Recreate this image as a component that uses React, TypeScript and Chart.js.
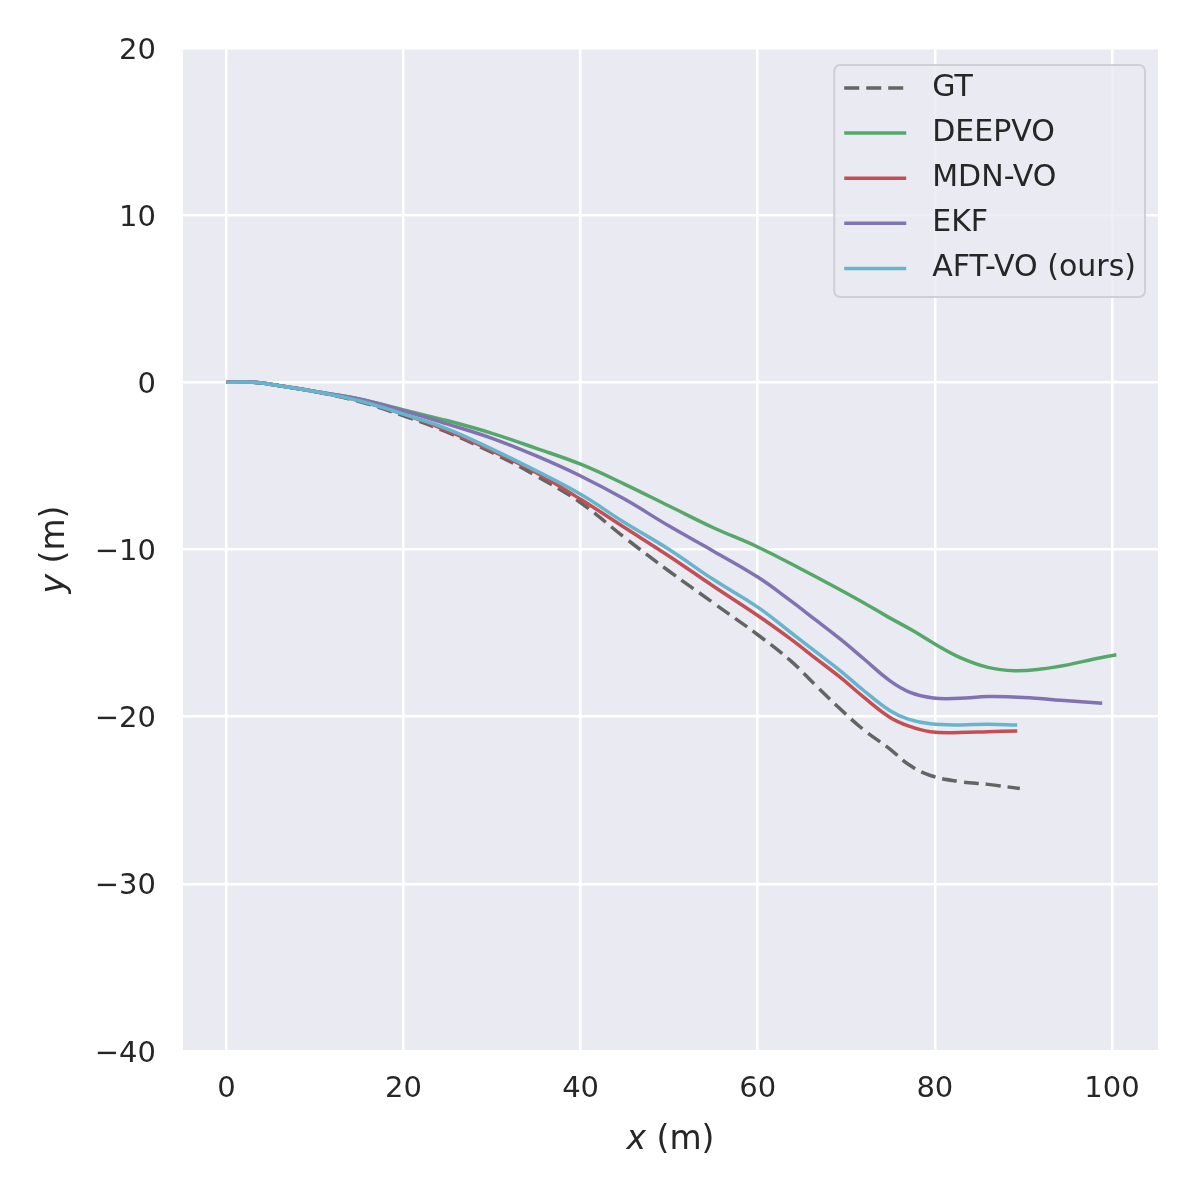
import React, { useEffect, useRef } from "react";
import { Chart, registerables } from "chart.js";

Chart.register(...registerables);

// ---- data ----
const X_TICKS = [0, 20, 40, 60, 80, 100];
const Y_TICKS = [-40, -30, -20, -10, 0, 10, 20];
const SERIES_LABELS = ["GT", "DEEPVO", "MDN-VO", "EKF", "AFT-VO (ours)"];
const SERIES_COLORS = ["#646464", "#55A868", "#C44E52", "#8172B2", "#64B5CD"];

const GT: number[][] = [
  [0, 0], [3, 0], [6, -0.2], [10, -0.55], [15, -1.15], [20, -2.0], [25, -3.0], [30, -4.2],
  [35, -5.6], [40, -7.2], [45, -9.3], [50, -11.3], [55, -13.2], [60, -15.1], [63.7, -16.65],
  [66.5, -18.1], [69.3, -19.53], [72, -20.8], [74.9, -21.92], [77, -22.85], [79.5, -23.52],
  [82.8, -23.88], [86, -24.05], [89.6, -24.3],
];
const DEEPVO: number[][] = [
  [0, 0], [3, 0], [6, -0.2], [10, -0.55], [15, -1.0], [20, -1.65], [25, -2.3], [30, -3.05],
  [35, -3.95], [40, -4.9], [45, -6.1], [50, -7.4], [55, -8.7], [60, -9.85], [65, -11.2],
  [71.2, -12.96], [74.6, -14.0], [77.5, -14.85], [80, -15.65], [82.8, -16.45], [86, -17.05],
  [89, -17.25], [92, -17.15], [95, -16.9], [98, -16.55], [100.5, -16.3],
];
const MDNVO: number[][] = [
  [0, 0], [3, 0], [6, -0.2], [10, -0.55], [15, -1.1], [20, -1.9], [25, -2.9], [30, -4.1],
  [35, -5.4], [40, -7.0], [45, -8.7], [50, -10.4], [55, -12.2], [60, -13.95], [63.7, -15.35],
  [66.5, -16.5], [69.3, -17.64], [72, -18.85], [74.9, -20.03], [77, -20.55], [79.5, -20.9],
  [82.8, -20.95], [86, -20.9], [89.3, -20.85],
];
const EKF: number[][] = [
  [0, 0], [3, 0], [6, -0.2], [10, -0.55], [15, -1.0], [20, -1.7], [25, -2.5], [30, -3.35],
  [35, -4.4], [40, -5.6], [45, -7.0], [50, -8.6], [55, -10.1], [60, -11.65], [63.7, -13.06],
  [66.5, -14.2], [69.3, -15.35], [72, -16.55], [74.9, -17.84], [77.2, -18.54], [79.8, -18.88],
  [82.8, -18.9], [86, -18.8], [90, -18.85], [95, -19.05], [98.9, -19.2],
];
const AFTVO: number[][] = [
  [0, 0], [3, 0], [6, -0.2], [10, -0.55], [15, -1.1], [20, -1.9], [25, -2.8], [30, -4.0],
  [35, -5.3], [40, -6.7], [45, -8.4], [50, -10.0], [55, -11.8], [60, -13.45], [63.7, -14.95],
  [66.5, -16.1], [69.3, -17.24], [72, -18.45], [74.9, -19.63], [77, -20.15], [79.5, -20.43],
  [82.8, -20.5], [86, -20.45], [89.3, -20.5],
];
const SERIES_DATA = [GT, DEEPVO, MDNVO, EKF, AFTVO];

const FONT = "DejaVu Sans";
const TEXT_COLOR = "#262626";
const AXES_BG = "#EAEAF2";

const fmt = (v: number) => (v < 0 ? "\u2212" + Math.abs(v) : String(v));

const bgPlugin = {
  id: "axesBg",
  beforeDraw(chart: any) {
    const { ctx, chartArea: a } = chart;
    ctx.save();
    ctx.fillStyle = AXES_BG;
    ctx.fillRect(a.left, a.top, a.right - a.left, a.bottom - a.top);
    ctx.restore();
  },
};

const legendPlugin = {
  id: "insideLegend",
  afterDatasetsDraw(chart: any) {
    const { ctx, chartArea: a } = chart;
    const ds = chart.data.datasets;
    ctx.save();
    ctx.font = `30px "${FONT}"`;
    let maxW = 0;
    ds.forEach((d: any) => { maxW = Math.max(maxW, ctx.measureText(d.label).width); });
    const w = 10 + 62 + 26 + maxW + 9;
    const h = 232;
    const right = a.right - 13;
    const x0 = right - w;
    const y0 = a.top + 17;
    ctx.beginPath();
    ctx.roundRect(x0, y0, w, h, 6);
    ctx.fillStyle = "rgba(234,234,242,0.8)";
    ctx.fill();
    ctx.lineWidth = 2;
    ctx.strokeStyle = "#cfcfd4";
    ctx.stroke();
    ds.forEach((d: any, i: number) => {
      const cy = y0 + 23 + i * 45.1;
      ctx.beginPath();
      ctx.setLineDash(d.borderDash || []);
      ctx.lineWidth = d.borderWidth;
      ctx.strokeStyle = d.borderColor;
      ctx.moveTo(x0 + 10, cy);
      ctx.lineTo(x0 + 72, cy);
      ctx.stroke();
      ctx.setLineDash([]);
      ctx.fillStyle = TEXT_COLOR;
      ctx.textBaseline = "middle";
      ctx.textAlign = "left";
      ctx.fillText(d.label, x0 + 98, cy);
    });
    ctx.restore();
  },
};

const titlePlugin = {
  id: "axisTitles",
  afterDraw(chart: any) {
    const { ctx, chartArea: a } = chart;
    const size = 33;
    const drawLabel = (varName: string, rest: string) => {
      ctx.font = `italic ${size}px "${FONT}"`;
      const w1 = ctx.measureText(varName).width;
      ctx.font = `${size}px "${FONT}"`;
      const w2 = ctx.measureText(rest).width;
      const start = -(w1 + w2) / 2;
      ctx.fillStyle = TEXT_COLOR;
      ctx.textBaseline = "alphabetic";
      ctx.textAlign = "left";
      ctx.font = `italic ${size}px "${FONT}"`;
      ctx.fillText(varName, start, 0);
      ctx.font = `${size}px "${FONT}"`;
      ctx.fillText(rest, start + w1, 0);
    };
    ctx.save();
    ctx.translate((a.left + a.right) / 2, a.bottom + 98);
    drawLabel("x", " (m)");
    ctx.restore();
    ctx.save();
    ctx.translate(a.left - 119, (a.top + a.bottom) / 2);
    ctx.rotate(-Math.PI / 2);
    drawLabel("y", " (m)");
    ctx.restore();
  },
};

export default function App() {
  const ref = useRef<HTMLCanvasElement | null>(null);
  useEffect(() => {
    document.body.style.margin = "0";
    const canvas = ref.current;
    if (!canvas) return;
    const datasets = SERIES_LABELS.map((label, i) => ({
      label,
      data: SERIES_DATA[i].map(([x, y]) => ({ x, y })),
      borderColor: SERIES_COLORS[i],
      backgroundColor: SERIES_COLORS[i],
      borderWidth: 3.5,
      borderDash: i === 0 ? [15, 7] : [],
      pointRadius: 0,
      fill: false,
      tension: 0.4,
      order: 5 - i,
    }));
    const chart = new Chart(canvas, {
      type: "line",
      data: { datasets },
      options: {
        animation: false,
        responsive: false,
        devicePixelRatio: 1,
        layout: { padding: { top: 48, right: 38, left: 0, bottom: 0 } },
        plugins: { legend: { display: false }, tooltip: { enabled: false } },
        elements: { point: { radius: 0 } },
        scales: {
          x: {
            type: "linear",
            min: -4.9,
            max: 105.2,
            afterBuildTicks: (s: any) => { s.ticks = X_TICKS.map((v) => ({ value: v })); },
            afterFit: (s: any) => { s.height = 139; },
            grid: { color: "#ffffff", lineWidth: 2.5, drawTicks: false },
            border: { display: false },
            ticks: {
              color: TEXT_COLOR,
              font: { family: FONT, size: 29 },
              padding: 21,
              maxRotation: 0,
              callback: (v: any) => fmt(Number(v)),
            },
          },
          y: {
            type: "linear",
            min: -40,
            max: 20,
            afterBuildTicks: (s: any) => { s.ticks = Y_TICKS.map((v) => ({ value: v })); },
            afterFit: (s: any) => { s.width = 183; },
            grid: { color: "#ffffff", lineWidth: 2.5, drawTicks: false },
            border: { display: false },
            ticks: {
              color: TEXT_COLOR,
              font: { family: FONT, size: 29 },
              padding: 27,
              labelOffset: 3,
              callback: (v: any) => fmt(Number(v)),
            },
          },
        },
      },
      plugins: [bgPlugin, legendPlugin, titlePlugin],
    });
    return () => chart.destroy();
  }, []);
  return (
    <div style={{ position: "absolute", left: 0, top: 0, width: 1196, height: 1190, background: "#ffffff" }}>
      <canvas ref={ref} width={1196} height={1190} style={{ display: "block", width: 1196, height: 1190 }} />
    </div>
  );
}
